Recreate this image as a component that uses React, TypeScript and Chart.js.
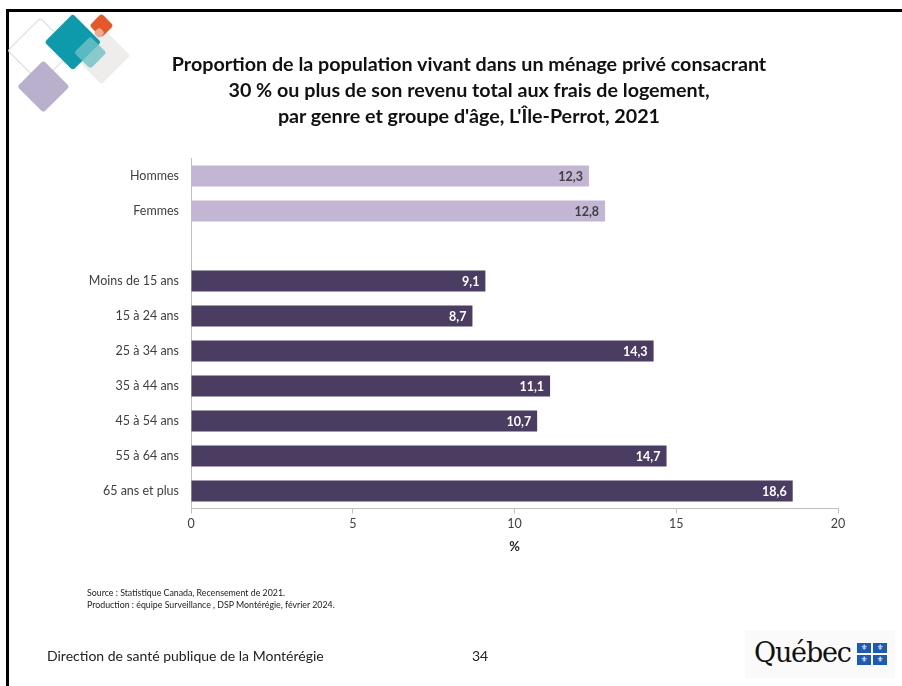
import React, { useEffect, useRef } from "react";
import { Chart, registerables } from "chart.js";

Chart.register(...registerables);

const categories = [
  "Hommes",
  "Femmes",
  "",
  "Moins de 15 ans",
  "15 à 24 ans",
  "25 à 34 ans",
  "35 à 44 ans",
  "45 à 54 ans",
  "55 à 64 ans",
  "65 ans et plus",
];
const values: (number | null)[] = [12.3, 12.8, null, 9.1, 8.7, 14.3, 11.1, 10.7, 14.7, 18.6];
const groupKind = ["genre", "genre", "", "age", "age", "age", "age", "age", "age", "age"];
const titleLines = [
  "Proportion de la population vivant dans un ménage privé consacrant",
  "30 % ou plus de son revenu total aux frais de logement,",
  "par genre et groupe d'âge, L'Île-Perrot, 2021",
];
const xTicks = [0, 5, 10, 15, 20];
const xTitle = "%";
const sourceLines = [
  "Source : Statistique Canada, Recensement de 2021.",
  "Production : équipe Surveillance , DSP Montérégie, février 2024.",
];
const footerLeft = "Direction de santé publique de la Montérégie";
const pageNumber = "34";

const LIGHT = "#c3b5d4";
const DARK = "#4b3c62";
const FONT = "Lato, 'Open Sans', sans-serif";

const valueLabels = {
  id: "valueLabels",
  afterDatasetsDraw(chart: any) {
    const ctx = chart.ctx;
    const meta = chart.getDatasetMeta(0);
    ctx.save();
    ctx.font = `bold 12.5px ${FONT}`;
    ctx.textAlign = "right";
    ctx.textBaseline = "middle";
    meta.data.forEach((bar: any, i: number) => {
      const v = values[i];
      if (v === null || v === undefined) return;
      ctx.fillStyle = groupKind[i] === "genre" ? "#404040" : "#ffffff";
      ctx.fillText(v.toFixed(1).replace(".", ","), bar.x - 6, bar.y + 1);
    });
    ctx.restore();
  },
};

function Diamond({ cx, cy, r, bg, border, opacity }: any) {
  const side = r * Math.SQRT2;
  return (
    <div
      style={{
        position: "absolute",
        left: cx - side / 2,
        top: cy - side / 2,
        width: side,
        height: side,
        background: bg || "transparent",
        border: border || "none",
        boxSizing: "border-box",
        transform: "rotate(45deg)",
        borderRadius: 3,
        opacity: opacity ?? 1,
      }}
    />
  );
}

function Flag({ x, y }: any) {
  return (
    <div
      style={{
        position: "absolute",
        left: x,
        top: y,
        width: 14,
        height: 10,
        background: "#1d5bb3",
        color: "#fff",
        fontSize: 8,
        lineHeight: "10px",
        textAlign: "center",
        fontFamily: "'DejaVu Sans', sans-serif",
      }}
    >
      ⚜
    </div>
  );
}

export default function App() {
  const ref = useRef<HTMLCanvasElement>(null);

  useEffect(() => {
    if (!ref.current) return;
    const chart = new Chart(ref.current, {
      type: "bar",
      data: {
        labels: categories,
        datasets: [
          {
            data: values,
            backgroundColor: groupKind.map((g) => (g === "genre" ? LIGHT : DARK)),
            barPercentage: 0.6,
            categoryPercentage: 1,
          },
        ],
      },
      options: {
        indexAxis: "y",
        animation: false,
        responsive: false,
        maintainAspectRatio: false,
        layout: { padding: { left: 40, right: 64, top: 158.5, bottom: 117.5 } },
        plugins: {
          legend: { display: false },
          tooltip: { enabled: false },
          title: { display: false },
        },
        scales: {
          x: {
            min: 0,
            max: 20,
            afterBuildTicks(scale: any) {
              scale.ticks = xTicks.map((v) => ({ value: v }));
            },
            afterFit(scale: any) {
              scale.height = 60;
            },
            grid: {
              display: true,
              drawOnChartArea: false,
              drawTicks: true,
              tickLength: 5,
              color: "#bfbfbf",
            },
            border: { display: true, color: "#bfbfbf" },
            ticks: {
              color: "#404040",
              padding: 3,
              font: { family: FONT, size: 12.5 },
            },
            title: {
              display: true,
              text: xTitle,
              color: "#262626",
              font: { family: FONT, size: 13, weight: "bold" },
              padding: { top: 0, bottom: 13.5 },
            },
          },
          y: {
            afterFit(scale: any) {
              scale.width = 151;
            },
            grid: { display: false, drawTicks: false },
            border: { display: true, color: "#bfbfbf" },
            ticks: {
              color: "#404040",
              padding: 12,
              font: { family: FONT, size: 12.5 },
            },
          },
        },
      },
      plugins: [valueLabels],
    } as any);
    return () => chart.destroy();
  }, []);

  return (
    <div style={{ position: "fixed", left: 0, top: 0, width: 902, height: 686, background: "#fff", overflow: "hidden" }}>
      <canvas ref={ref} width={902} height={686} style={{ position: "absolute", left: 0, top: 0 }} />
      {/* frame */}
      <div style={{ position: "absolute", left: 6, top: 9, width: 896, height: 2.5, background: "#000" }} />
      <div style={{ position: "absolute", left: 6, top: 9, width: 2.5, height: 677, background: "#000" }} />
      {/* decorative logo */}
      <Diamond cx={40} cy={50} r={33} border="1.5px solid #d8dfd2" />
      <Diamond cx={43} cy={86} r={26} bg="#b8b0cc" />
      <Diamond cx={102} cy={56} r={29} bg="#efedec" />
      <Diamond cx={73} cy={42} r={28} bg="#0e9aaa" />
      <Diamond cx={90} cy={52} r={16} bg="#6fc0c6" opacity={0.8} />
      <Diamond cx={101} cy={25} r={12} bg="#e4592a" />
      <Diamond cx={99} cy={33} r={6} bg="#eeab92" />
      {/* title */}
      <div
        style={{
          position: "absolute",
          left: 269,
          width: 400,
          top: 51,
          display: "flex",
          flexDirection: "column",
          alignItems: "center",
          fontFamily: FONT,
          fontWeight: "bold",
          fontSize: 19.7,
          lineHeight: "26px",
          color: "#111",
          whiteSpace: "nowrap",
        }}
      >
        {titleLines.map((t, i) => (
          <div key={i}>{t}</div>
        ))}
      </div>
      {/* sources */}
      <div style={{ position: "absolute", left: 87, top: 587, fontFamily: FONT, fontSize: 8.8, color: "#222", lineHeight: "12px", whiteSpace: "nowrap" }}>
        {sourceLines.map((s, i) => (
          <div key={i}>{s}</div>
        ))}
      </div>
      <div style={{ position: "absolute", left: 47, top: 647, fontFamily: FONT, fontSize: 14, color: "#222", whiteSpace: "nowrap" }}>
        {footerLeft}
      </div>
      <div style={{ position: "absolute", left: 472, top: 647, fontFamily: FONT, fontSize: 14, color: "#222" }}>
        {pageNumber}
      </div>
      {/* Québec logo */}
      <div style={{ position: "absolute", left: 745, top: 630, width: 150, height: 48, background: "#fafafa" }} />
      <div style={{ position: "absolute", left: 754, top: 633, fontFamily: "'DejaVu Serif', 'Liberation Serif', serif", fontSize: 27, color: "#111", lineHeight: "40px", letterSpacing: -1.2 }}>
        Québec
      </div>
      <Flag x={857} y={643} />
      <Flag x={873} y={643} />
      <Flag x={857} y={655} />
      <Flag x={873} y={655} />
    </div>
  );
}
